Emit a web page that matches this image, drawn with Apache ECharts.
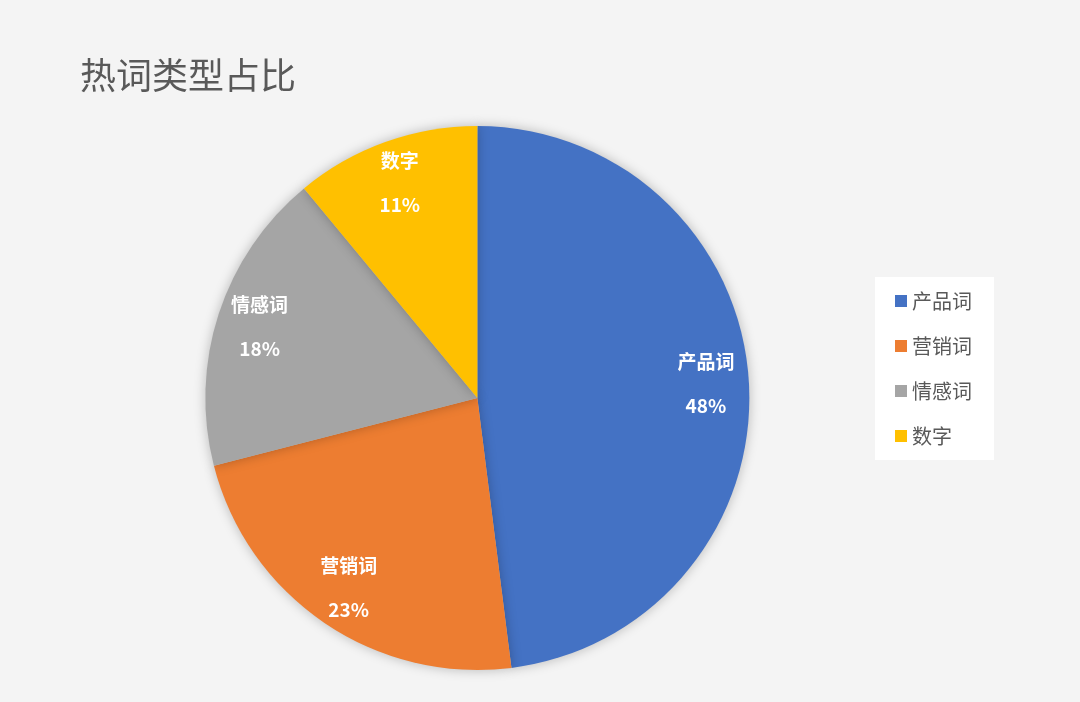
<!DOCTYPE html>
<html><head><meta charset="utf-8">
<script src="https://cdn.jsdelivr.net/npm/echarts@6/dist/echarts.min.js"></script>
<style>html,body{margin:0;padding:0;background:#f4f4f4}#c{width:1080px;height:702px}</style>
</head><body><div id="c"></div>
<script>
const categories = ['产品词','营销词','情感词','数字'];
const values = [48, 23, 18, 11];
const colors = ['#4472c4','#ed7d31','#a5a5a5','#ffc000'];
const data = categories.map((n,i)=>({name:n,value:values[i]}));
const chart = echarts.init(document.getElementById('c'));
const font = '"Noto Sans CJK SC", sans-serif';
chart.setOption({
  backgroundColor:'#f4f4f4',
  color: colors,
  title:{text:'热词类型占比',left:75,top:52,textStyle:{fontFamily:font,fontSize:36,fontWeight:'normal',color:'#595959'}},
  legend:{orient:'vertical',left:875,top:277,data:categories,backgroundColor:'#fff',
    padding:[14,22,14,20],itemWidth:12,itemHeight:12,itemGap:25,
    icon:'rect',textStyle:{fontFamily:font,fontSize:20,color:'#595959'}},
  series:[
    {type:'pie',center:['44.2%','56.7%'],radius:[0,272],startAngle:90,clockwise:true,
     data:data,label:{show:false},labelLine:{show:false},silent:true,
     itemStyle:{shadowBlur:12,shadowColor:'rgba(0,0,0,0.25)'}},
    {type:'pie',center:['44.2%','56.7%'],radius:[180,272],startAngle:90,clockwise:true,
     data:data,silent:true,itemStyle:{color:'transparent'},labelLine:{show:false},
     label:{show:true,position:'inside',formatter:'{b}\n\n{d}%',color:'#fff',fontFamily:font,fontSize:19,fontWeight:'bold',lineHeight:22}}
  ]
});
</script></body></html>
